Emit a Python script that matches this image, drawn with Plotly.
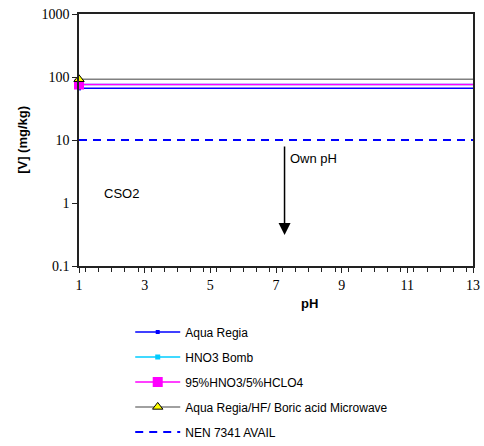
import plotly.graph_objects as go
import math

# ---- data ----
ph_range = [1, 13]
series_names = ["Aqua Regia", "HNO3 Bomb", "95%HNO3/5%HCLO4",
                "Aqua Regia/HF/ Boric acid Microwave"]
series_values = [66, 76, 76, 92]
limit_name = "NEN 7341 AVAIL"
limit_value = 10
y_tickvals = [0.1, 1, 10, 100, 1000]
y_ticktext = ["0.1", "1", "10", "100", "1000"]
x_tickvals = [1, 3, 5, 7, 9, 11, 13]

colors = ["#0000FF", "#00CCFF", "#FF00FF", "#808080"]
symbols = ["square", "square", "square", "triangle-up"]
msizes = [4, 5, 10, 9]
mfill = ["#0000FF", "#00CCFF", "#FF00FF", "#FFFF00"]
mline = [0, 0, 0, 1]

fig = go.Figure()
for i, (name, v) in enumerate(zip(series_names, series_values)):
    mk = dict(symbol=symbols[i], size=msizes[i], color=mfill[i],
              line=dict(color="black", width=mline[i]))
    fig.add_trace(go.Scatter(
        x=ph_range, y=[v, v], mode="lines", showlegend=False,
        line=dict(color=colors[i], width=1.5), hoverinfo="skip"))
    fig.add_trace(go.Scatter(
        x=ph_range[:1], y=[v], mode="markers", showlegend=False,
        marker=mk, cliponaxis=False))
    fig.add_trace(go.Scatter(
        x=[None], y=[None], name=name, mode="lines+markers",
        line=dict(color=colors[i], width=1.5), marker=mk,
        legendgroup=f"g{i}"))
fig.add_trace(go.Scatter(
    x=ph_range, y=[limit_value, limit_value], name=limit_name, mode="lines",
    line=dict(color="#0000FF", width=2, dash="8px,6px"),
    legendgroup="g4",
))

fig.update_layout(
    width=484, height=446,
    margin=dict(l=79, r=11, t=14, b=180, autoexpand=False),
    paper_bgcolor="white", plot_bgcolor="white",
    font=dict(family="Liberation Sans, Arial", size=12, color="black"),
    showlegend=True,
    legend=dict(x=0.13, y=-0.204, xanchor="left", yanchor="top",
                font=dict(size=12), tracegroupgap=6, itemwidth=45,
                traceorder="grouped", bgcolor="rgba(0,0,0,0)"),
    xaxis=dict(range=ph_range, tickvals=x_tickvals, showgrid=False, automargin=False,
               zeroline=False, showline=True, linecolor="#222", linewidth=1.5,
               mirror=True, ticks="outside", ticklen=5, tickcolor="#222",
               minor=dict(dtick=0.4, ticks="outside", ticklen=4, tickcolor="#222"),
               tickfont=dict(family="Liberation Serif, Times New Roman", size=14)),
    yaxis=dict(type="log", range=[-1, 3], tickvals=y_tickvals, ticktext=y_ticktext,
               automargin=False,
               showgrid=False, zeroline=False, showline=True, linecolor="#222",
               linewidth=1.5, mirror=True, ticks="outside", ticklen=5, tickcolor="#222",
               tickfont=dict(family="Liberation Serif, Times New Roman", size=14)),
    annotations=[
        dict(text="<b>[V] (mg/kg)</b>", xref="paper", yref="paper", x=-0.145, y=0.5,
             textangle=-90, showarrow=False, font=dict(size=13),
             xanchor="center", yanchor="middle"),
        dict(text="<b>pH</b>", xref="paper", yref="paper", x=0.585, y=-0.148,
             showarrow=False, font=dict(size=13), xanchor="center", yanchor="middle"),
        dict(text="CSO2", x=2.3, y=math.log10(1.39), xref="x", yref="y",
             showarrow=False, font=dict(size=13), xanchor="center", yanchor="middle"),
        dict(text="Own pH", x=7.36, y=math.log10(5.0), xref="x", yref="y",
             showarrow=False, font=dict(size=13), xanchor="left", yanchor="middle"),
        dict(text="", x=7.26, y=-0.508, xref="x", yref="y",
             ax=7.26, ay=0.92, axref="x", ayref="y",
             showarrow=True, arrowhead=2, arrowsize=1.6, arrowwidth=1.5,
             arrowcolor="black"),
    ],
)

fig.write_html("out.html", config={"displayModeBar": False},
               post_script="document.body.style.margin='0';")
